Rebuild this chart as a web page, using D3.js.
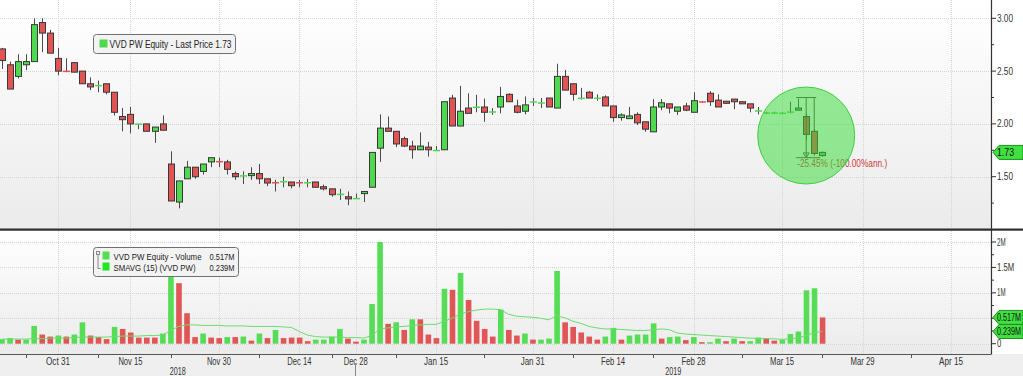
<!DOCTYPE html>
<html lang="en">
<head>
<meta charset="utf-8" />
<title>VVD PW Equity</title>
<script src="https://d3js.org/d3.v7.min.js"></script>
<style>
  html, body { margin: 0; padding: 0; background: #efefef; }
  svg { display: block; font-family: "Liberation Sans", Arial, sans-serif; }
  .axis text { font-size: 10px; fill: #333; }
  .grid line { stroke: #d4d4d4; stroke-dasharray: 1,1; }
</style>
</head>
<body>
<svg width="1023" height="376"></svg>
<script>
// daily candles, Warsaw session dates
var dates = ["2018-10-22","2018-10-23","2018-10-24","2018-10-25","2018-10-26","2018-10-29","2018-10-30","2018-10-31",
  "2018-11-02","2018-11-05","2018-11-06","2018-11-07","2018-11-08","2018-11-09","2018-11-13","2018-11-14","2018-11-15","2018-11-16",
  "2018-11-19","2018-11-20","2018-11-21","2018-11-22","2018-11-23","2018-11-26","2018-11-27","2018-11-28","2018-11-29","2018-11-30",
  "2018-12-03","2018-12-04","2018-12-05","2018-12-06","2018-12-07","2018-12-10","2018-12-11","2018-12-12","2018-12-13","2018-12-14",
  "2018-12-17","2018-12-18","2018-12-19","2018-12-20","2018-12-21","2018-12-27","2018-12-28",
  "2019-01-02","2019-01-03","2019-01-04","2019-01-07","2019-01-08","2019-01-09","2019-01-10","2019-01-11","2019-01-14","2019-01-15",
  "2019-01-16","2019-01-17","2019-01-18","2019-01-21","2019-01-22","2019-01-23","2019-01-24","2019-01-25","2019-01-28","2019-01-29",
  "2019-01-30","2019-01-31","2019-02-01","2019-02-04","2019-02-05","2019-02-06","2019-02-07","2019-02-08","2019-02-11","2019-02-12",
  "2019-02-13","2019-02-14","2019-02-15","2019-02-18","2019-02-19","2019-02-20","2019-02-21","2019-02-22","2019-02-25","2019-02-26",
  "2019-02-27","2019-02-28","2019-03-01","2019-03-04","2019-03-05","2019-03-06","2019-03-07","2019-03-08","2019-03-11","2019-03-12",
  "2019-03-13","2019-03-14","2019-03-15","2019-03-18","2019-03-19","2019-03-20","2019-03-21","2019-03-22"];

var opens = [2.71,2.56,2.45,2.56,2.59,2.96,2.86,2.62,
  2.50,2.58,2.50,2.38,2.36,2.38,2.30,2.07,2.09,1.995,
  2.00,1.93,2.00,1.62,1.26,1.48,1.59,1.55,1.64,1.645,
  1.64,1.53,1.505,1.51,1.53,1.48,1.445,1.45,1.45,1.445,
  1.44,1.45,1.405,1.385,1.33,1.31,1.29,
  1.34,1.40,1.77,1.96,1.93,1.86,1.79,1.755,1.78,1.745,
  1.755,2.245,1.98,2.15,2.155,2.16,2.11,2.16,2.28,2.17,
  2.12,2.205,2.195,2.245,2.15,2.45,2.38,2.24,2.30,2.24,
  2.255,2.17,2.06,2.05,2.09,2.02,1.925,2.16,2.19,2.12,
  2.17,2.11,2.21,2.29,2.225,2.215,2.235,2.21,2.19,2.12,
  2.095,2.095,2.095,2.11,2.13,2.07,1.93,1.70];
var highs = [2.72,2.59,2.66,2.66,3.00,3.00,2.89,2.72,
  2.62,2.58,2.50,2.44,2.41,2.38,2.30,2.15,2.16,2.00,
  2.00,1.97,2.08,1.74,1.46,1.65,1.59,1.62,1.68,1.68,
  1.66,1.55,1.55,1.59,1.62,1.48,1.47,1.50,1.45,1.47,
  1.48,1.45,1.425,1.385,1.385,1.36,1.34,
  1.36,1.73,2.09,2.07,1.93,1.88,1.84,1.92,1.83,1.79,
  2.21,2.275,2.36,2.29,2.275,2.24,2.15,2.35,2.29,2.23,
  2.26,2.245,2.245,2.245,2.57,2.51,2.38,2.34,2.31,2.28,
  2.27,2.17,2.10,2.16,2.11,2.02,2.235,2.235,2.19,2.16,
  2.20,2.30,2.215,2.31,2.28,2.215,2.235,2.21,2.19,2.16,
  2.115,2.115,2.11,2.21,2.24,2.10,1.95,1.74];
var lows = [2.52,2.33,2.43,2.51,2.59,2.68,2.67,2.46,
  2.49,2.49,2.38,2.32,2.30,2.28,2.08,1.93,1.91,1.95,
  1.93,1.82,1.94,1.27,1.20,1.48,1.48,1.52,1.59,1.59,
  1.52,1.47,1.43,1.47,1.43,1.41,1.36,1.40,1.39,1.40,
  1.40,1.40,1.37,1.31,1.28,1.23,1.29,
  1.26,1.40,1.64,1.93,1.78,1.78,1.67,1.755,1.69,1.745,
  1.755,1.98,1.98,2.10,2.11,2.02,2.085,2.10,2.21,2.10,
  2.09,2.17,2.15,2.16,2.15,2.32,2.22,2.23,2.245,2.22,
  2.17,2.02,2.03,2.05,1.99,1.925,1.925,2.13,2.10,2.085,
  2.12,2.11,2.20,2.17,2.16,2.19,2.14,2.19,2.11,2.09,
  2.095,2.095,2.095,2.10,2.13,1.85,1.70,1.69];
var closes = [2.60,2.33,2.59,2.59,2.94,2.86,2.67,2.50,
  2.495,2.49,2.38,2.35,2.365,2.30,2.11,2.04,2.00,2.00,
  1.93,1.97,1.94,1.27,1.46,1.59,1.50,1.62,1.68,1.64,
  1.57,1.50,1.51,1.53,1.48,1.44,1.44,1.455,1.415,1.44,
  1.445,1.40,1.385,1.33,1.335,1.29,1.295,
  1.36,1.73,1.96,1.93,1.81,1.79,1.755,1.79,1.755,1.75,
  2.21,1.98,2.12,2.10,2.16,2.11,2.115,2.26,2.21,2.11,
  2.18,2.21,2.20,2.16,2.45,2.32,2.28,2.245,2.245,2.245,
  2.17,2.06,2.085,2.075,2.01,1.95,2.16,2.20,2.15,2.16,
  2.13,2.22,2.205,2.21,2.16,2.195,2.21,2.19,2.15,2.125,
  2.11,2.11,2.105,2.113,2.15,1.90,1.72,1.73];

// volume in millions of shares, and bar colour (1 = green, 0 = red)
var volumes = [0.09,0.11,0.08,0.08,0.35,0.18,0.14,0.16,
  0.14,0.18,0.42,0.16,0.13,0.09,0.33,0.29,0.22,0.12,
  0.12,0.12,0.20,1.55,1.19,0.60,0.13,0.20,0.12,0.11,
  0.13,0.13,0.14,0.06,0.20,0.11,0.27,0.11,0.12,0.12,
  0.05,0.08,0.08,0.14,0.29,0.10,0.04,
  0.08,0.78,2.00,0.39,0.42,0.27,0.48,0.48,0.18,0.11,
  1.08,1.06,1.39,0.86,0.45,0.29,0.14,0.67,0.27,0.16,
  0.20,0.08,0.08,0.10,1.43,0.42,0.33,0.22,0.14,0.08,
  0.14,0.31,0.08,0.16,0.18,0.18,0.40,0.10,0.13,0.14,
  0.07,0.13,0.03,0.03,0.10,0.05,0.10,0.05,0.05,0.12,
  0.11,0.06,0.08,0.19,0.24,1.05,1.09,0.517];
var volUp = [1,1,0,1,1,0,0,1,
  0,1,1,0,0,0,1,0,0,0,
  0,0,1,1,0,0,0,1,0,0,
  1,0,1,0,1,0,1,0,0,0,
  0,1,1,1,1,0,0,
  1,1,1,0,1,0,1,0,0,0,
  1,0,1,0,0,0,0,1,0,0,
  1,0,1,1,1,0,0,0,0,0,
  1,1,0,1,1,1,1,0,1,1,
  0,1,0,1,1,0,1,0,1,1,
  0,0,1,1,1,1,1,0];
var smavg = [0.09,0.09,0.09,0.09,0.10,0.10,0.11,0.11,
  0.11,0.12,0.13,0.13,0.13,0.13,0.14,0.15,0.15,0.15,
  0.16,0.16,0.17,0.26,0.34,0.37,0.37,0.36,0.36,0.36,
  0.35,0.35,0.35,0.34,0.34,0.34,0.34,0.33,0.32,0.24,
  0.17,0.14,0.13,0.13,0.13,0.12,0.12,
  0.11,0.16,0.29,0.31,0.33,0.34,0.36,0.37,0.38,0.38,
  0.44,0.50,0.58,0.63,0.66,0.68,0.68,0.67,0.58,0.54,
  0.53,0.52,0.50,0.47,0.55,0.51,0.44,0.40,0.34,0.31,
  0.29,0.29,0.28,0.27,0.26,0.26,0.275,0.29,0.275,0.21,
  0.19,0.18,0.17,0.16,0.15,0.14,0.13,0.12,0.11,0.105,
  0.10,0.095,0.085,0.10,0.11,0.16,0.22,0.239];

var priceTicks = [1.5, 2.0, 2.5, 3.0];
var priceMinor = [1.25, 1.75, 2.25, 2.75];
var volTicks = [0, 0.5, 1, 1.5, 2];
var volTickLabels = ["0", "", "1M", "1.5M", "2M"];   // 0.5M sits under the volume tag
var volMinor = [0.25, 0.75, 1.25, 1.75];
var labelDates = ["2018-10-31","2018-11-15","2018-11-30","2018-12-14","2018-12-28","2019-01-15",
  "2019-01-31","2019-02-14","2019-02-28","2019-03-15","2019-03-29","2019-04-15"];
var labelTexts = ["Oct 31","Nov 15","Nov 30","Dec 14","Dec 28","Jan 15","Jan 31","Feb 14","Feb 28","Mar 15","Mar 29","Apr 15"];
var minorDates = ["2018-10-25","2018-11-08","2018-11-22","2018-12-07","2018-12-20","2019-01-08","2019-01-23",
  "2019-02-07","2019-02-21","2019-03-08","2019-03-22","2019-04-08"];
var holidays = ["2018-11-01","2018-11-12","2018-12-24","2018-12-25","2018-12-26","2018-12-31","2019-01-01","2019-04-19","2019-04-22"];

var lastPrice = 1.73, lastVolume = 0.517, lastSma = 0.239;

var svg = d3.select("svg");
var fmt = d3.timeFormat("%Y-%m-%d"), parse = d3.timeParse("%Y-%m-%d");

// trading day axis: weekends and exchange holidays are skipped
var days = d3.timeDay.range(parse("2018-10-19"), parse("2019-04-27"))
  .filter(function(d) { return d.getDay() % 6 !== 0 && holidays.indexOf(fmt(d)) < 0; })
  .map(fmt);
function pos(d) { return days.indexOf(d); }

// the terminal font is narrow: squeeze texts to its widths
function narrow(sel, w) {
  sel.attr("textLength", w).attr("lengthAdjust", "spacingAndGlyphs");
  return sel;
}

var plotRight = 991;
var x = d3.scaleLinear().domain([pos("2018-10-31"), pos("2019-04-15")]).range([58, 951]);
var yPrice = d3.scaleLinear().domain([1.5, 3.0]).range([176.7, 18.3]);
var yVol = d3.scaleLinear().domain([0, 2]).range([343.7, 242]);

var green = "#4fd94f", red = "#e25454";

var defs = svg.append("defs");
var grad = defs.append("linearGradient").attr("id", "bg").attr("x1", 0).attr("y1", 0).attr("x2", 0).attr("y2", 1);
grad.append("stop").attr("offset", "0%").attr("stop-color", "#ffffff");
grad.append("stop").attr("offset", "100%").attr("stop-color", "#ebebeb");
defs.append("clipPath").attr("id", "clipP").append("rect").attr("x", 0).attr("y", 0).attr("width", plotRight).attr("height", 228);
defs.append("clipPath").attr("id", "clipV").append("rect").attr("x", 0).attr("y", 231).attr("width", plotRight).attr("height", 123);

// panel backgrounds
svg.append("rect").attr("x", 0).attr("y", 0).attr("width", 1023).attr("height", 376).attr("fill", "#efefef");
svg.append("rect").attr("x", 0).attr("y", 0).attr("width", plotRight).attr("height", 229).attr("fill", "url(#bg)");
svg.append("rect").attr("x", 0).attr("y", 231).attr("width", plotRight).attr("height", 123).attr("fill", "url(#bg)");
svg.append("rect").attr("x", plotRight).attr("y", 0).attr("width", 32).attr("height", 354).attr("fill", "#ffffff");

// grid
var grid = svg.append("g").attr("class", "grid");
grid.selectAll(".gp").data(priceTicks).enter().append("line")
  .attr("x1", 0).attr("x2", plotRight)
  .attr("y1", function(d) { return Math.round(yPrice(d)) + 0.5; })
  .attr("y2", function(d) { return Math.round(yPrice(d)) + 0.5; });
grid.selectAll(".gv").data(volTicks).enter().append("line")
  .attr("x1", 0).attr("x2", plotRight)
  .attr("y1", function(d) { return Math.round(yVol(d)) + 0.5; })
  .attr("y2", function(d) { return Math.round(yVol(d)) + 0.5; });
labelDates.forEach(function(d) {
  var xx = Math.round(x(pos(d))) + 0.5;
  grid.append("line").attr("x1", xx).attr("x2", xx).attr("y1", 0).attr("y2", 228);
  grid.append("line").attr("x1", xx).attr("x2", xx).attr("y1", 231).attr("y2", 354);
});

// candles
var candles = svg.append("g").attr("clip-path", "url(#clipP)");
dates.forEach(function(d, i) {
  var cx = Math.round(x(pos(d))) + 0.5;
  var up = closes[i] >= opens[i];
  var col = up ? green : red;
  candles.append("line").attr("x1", cx).attr("x2", cx)
    .attr("y1", yPrice(highs[i])).attr("y2", yPrice(lows[i]))
    .attr("stroke", "#4a4a4a").attr("stroke-width", 1);
  var yTop = yPrice(Math.max(opens[i], closes[i])), yBot = yPrice(Math.min(opens[i], closes[i]));
  if (yBot - yTop < 1.6) {
    candles.append("line").attr("x1", cx - 3.5).attr("x2", cx + 3.5)
      .attr("y1", (yTop + yBot) / 2).attr("y2", (yTop + yBot) / 2)
      .attr("stroke", col).attr("stroke-width", 1.5);
  } else {
    candles.append("rect").attr("x", cx - 3).attr("width", 6)
      .attr("y", yTop).attr("height", yBot - yTop)
      .attr("fill", col).attr("stroke", "#383838").attr("stroke-width", 1);
  }
});

// measure annotation (drawn under the highlight circle)
var ann = svg.append("g").attr("stroke", "#5a4a3a").attr("stroke-width", 1).attr("fill", "none");
var a0 = x(pos("2019-03-19")) - 2, a1 = x(pos("2019-03-20")), a2 = x(pos("2019-03-21")), a3 = x(pos("2019-03-22"));
ann.append("line").attr("x1", a0).attr("x2", a2 + 2).attr("y1", yPrice(2.25)).attr("y2", yPrice(2.25));
ann.append("line").attr("x1", a1).attr("x2", a1).attr("y1", yPrice(2.25)).attr("y2", yPrice(1.68));
ann.append("line").attr("x1", a2).attr("x2", a2).attr("y1", yPrice(2.25)).attr("y2", yPrice(1.934));
ann.append("line").attr("x1", a0).attr("x2", a3 - 2).attr("y1", yPrice(1.68)).attr("y2", yPrice(1.68));
ann.append("path").attr("d", "M" + (a1 - 3) + "," + (yPrice(1.725)) + "L" + (a1 + 3) + "," + yPrice(1.725) + "L" + a1 + "," + yPrice(1.68) + "Z");
narrow(svg.append("text").attr("x", a0 + 1).attr("y", yPrice(1.68) + 9)
  .attr("font-size", "10px").attr("fill", "#cc3a3a").text("-25.45% (-100.00%ann.)"), 90);

svg.append("circle").attr("cx", a1).attr("cy", 135.5).attr("r", 48.5)
  .attr("fill", "#2fdc2f").attr("fill-opacity", 0.5).attr("stroke", "#3fcf3f").attr("stroke-width", 1);

// volume bars and 15-day average
var vol = svg.append("g").attr("clip-path", "url(#clipV)");
vol.selectAll("rect").data(volumes).enter().append("rect")
  .attr("x", function(d, i) { return x(pos(dates[i])) - 2.5; })
  .attr("width", 5.6)
  .attr("y", function(d) { return yVol(d); })
  .attr("height", function(d) { return yVol(0) - yVol(d); })
  .attr("fill", function(d, i) { return volUp[i] ? "#55dd55" : "#e05555"; });
vol.append("path").datum(smavg)
  .attr("fill", "none").attr("stroke", "#6ddc6d").attr("stroke-width", 1)
  .attr("d", d3.line().x(function(d, i) { return x(pos(dates[i])); }).y(function(d) { return yVol(d); }));

// panel separator and axis lines
svg.append("rect").attr("x", 0).attr("y", 228.5).attr("width", 1023).attr("height", 2.2).attr("fill", "#2e2e2e");
svg.append("line").attr("x1", plotRight + 0.5).attr("x2", plotRight + 0.5).attr("y1", 0).attr("y2", 354.5).attr("stroke", "#333").attr("stroke-width", 1.2);
svg.append("line").attr("x1", 0).attr("x2", plotRight).attr("y1", 354.5).attr("y2", 354.5).attr("stroke", "#555").attr("stroke-width", 1);

// right price axis
var ra = svg.append("g").attr("class", "axis");
ra.selectAll(".pt").data(priceTicks).enter().append("line")
  .attr("x1", plotRight).attr("x2", plotRight + 5)
  .attr("y1", function(d) { return yPrice(d); }).attr("y2", function(d) { return yPrice(d); })
  .attr("stroke", "#333");
ra.selectAll(".pm").data(priceMinor).enter().append("line")
  .attr("x1", plotRight).attr("x2", plotRight + 3)
  .attr("y1", function(d) { return yPrice(d); }).attr("y2", function(d) { return yPrice(d); })
  .attr("stroke", "#333");
narrow(ra.selectAll(".pl").data(priceTicks).enter().append("text")
  .attr("x", plotRight + 6).attr("y", function(d) { return yPrice(d) + 3.5; })
  .text(function(d) { return d3.format(".2f")(d); }), 16);
ra.selectAll(".vt").data(volTicks).enter().append("line")
  .attr("x1", plotRight).attr("x2", plotRight + 5)
  .attr("y1", function(d) { return yVol(d); }).attr("y2", function(d) { return yVol(d); })
  .attr("stroke", "#333");
ra.selectAll(".vm").data(volMinor).enter().append("line")
  .attr("x1", plotRight).attr("x2", plotRight + 3)
  .attr("y1", function(d) { return yVol(d); }).attr("y2", function(d) { return yVol(d); })
  .attr("stroke", "#333");
ra.selectAll(".vl").data(volTicks.filter(function(d, i) { return volTickLabels[i]; })).enter().append("text")
  .attr("x", plotRight + 6).attr("y", function(d) { return yVol(d) + 3.5; })
  .attr("textLength", function(d) { var s = volTickLabels[volTicks.indexOf(d)]; return s.length * 4.3; })
  .attr("lengthAdjust", "spacingAndGlyphs")
  .text(function(d) { return volTickLabels[volTicks.indexOf(d)]; });

// value tags on the right
function tag(yy, label, w) {
  var g = svg.append("g");
  g.append("path")
    .attr("d", "M" + (plotRight + 2) + "," + yy + "L" + (plotRight + 8) + "," + (yy - 7) + "L1023," + (yy - 7) + "L1023," + (yy + 7) + "L" + (plotRight + 8) + "," + (yy + 7) + "Z")
    .attr("fill", "#3fe03f").attr("stroke", "#1f8f1f").attr("stroke-width", 1);
  narrow(g.append("text").attr("x", plotRight + 6).attr("y", yy + 3.8)
    .attr("font-size", "10px").attr("fill", "#111").text(label), w);
}
tag(yPrice(lastPrice), d3.format(".2f")(lastPrice), 17);
tag(yVol(lastVolume), lastVolume.toFixed(3) + "M", 24);
tag(yVol(lastSma), lastSma.toFixed(3) + "M", 24);

// bottom date axis
var ba = svg.append("g").attr("class", "axis");
ba.selectAll(".mt").data(minorDates).enter().append("line")
  .attr("x1", function(d) { return Math.round(x(pos(d))) + 0.5; })
  .attr("x2", function(d) { return Math.round(x(pos(d))) + 0.5; })
  .attr("y1", 355).attr("y2", 358).attr("stroke", "#555");
narrow(ba.selectAll(".dl").data(labelDates).enter().append("text")
  .attr("x", function(d) { return x(pos(d)) - 12; }).attr("y", 365)
  .text(function(d, i) { return labelTexts[i]; }), 24);
var sep = Math.round(x(pos("2018-12-28"))) - 0.5;
ba.append("line").attr("x1", sep).attr("x2", sep).attr("y1", 363).attr("y2", 376).attr("stroke", "#888");
narrow(ba.append("text").attr("x", sep / 2 - 8).attr("y", 375).text("2018"), 16);
narrow(ba.append("text").attr("x", (sep + plotRight) / 2 - 8).attr("y", 375).text("2019"), 16);

// legends
var lg1 = svg.append("g").attr("transform", "translate(93.5,34.5)");
lg1.append("rect").attr("width", 142).attr("height", 19).attr("rx", 3)
  .attr("fill", "#f3f3f3").attr("stroke", "#707070");
lg1.append("rect").attr("x", 6).attr("y", 5).attr("width", 8).attr("height", 8).attr("fill", "#4fd94f");
narrow(lg1.append("text").attr("x", 16).attr("y", 13.5).attr("font-size", "10.5px").attr("fill", "#222")
  .text("VVD PW Equity - Last Price " + lastPrice.toFixed(2)), 122);

var lg2 = svg.append("g").attr("transform", "translate(93.5,247.5)");
lg2.append("rect").attr("width", 145).attr("height", 29).attr("rx", 3)
  .attr("fill", "#f3f3f3").attr("stroke", "#707070");
lg2.append("rect").attr("x", 3).attr("y", 4).attr("width", 3).attr("height", 3).attr("fill", "none").attr("stroke", "#888");
lg2.append("path").attr("d", "M4.5,7V21H7").attr("fill", "none").attr("stroke", "#888");
lg2.append("rect").attr("x", 9).attr("y", 4).attr("width", 7).attr("height", 8).attr("fill", "#55dd55");
lg2.append("rect").attr("x", 9).attr("y", 15).attr("width", 7).attr("height", 8).attr("fill", "#22e622");
narrow(lg2.append("text").attr("x", 20).attr("y", 12).attr("font-size", "9.5px").attr("fill", "#222").text("VVD PW Equity - Volume"), 88);
narrow(lg2.append("text").attr("x", 116).attr("y", 12).attr("font-size", "9.5px").attr("fill", "#222").text(lastVolume.toFixed(3) + "M"), 25);
narrow(lg2.append("text").attr("x", 20).attr("y", 23).attr("font-size", "9.5px").attr("fill", "#222").text("SMAVG (15) (VVD PW)"), 82);
narrow(lg2.append("text").attr("x", 116).attr("y", 23).attr("font-size", "9.5px").attr("fill", "#222").text(lastSma.toFixed(3) + "M"), 25);
</script>
</body>
</html>
